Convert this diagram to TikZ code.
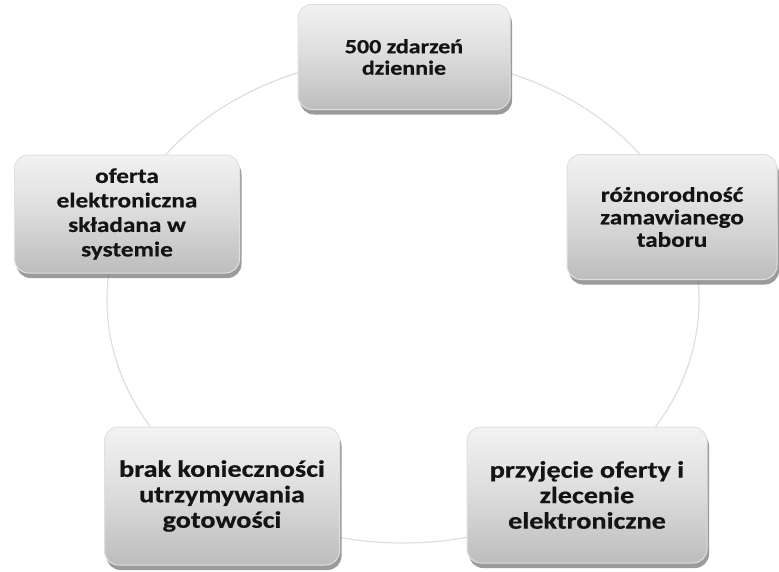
\documentclass[tikz,border=0pt]{standalone}
\usepackage{fontspec}
\newfontfamily\boxfont{Carlito}[FakeStretch=1.2, BoldFeatures={FakeBold=0.6}]
\usetikzlibrary{shadows}

\newcommand\krokfont[2]{\boxfont\bfseries\fontsize{#1}{#2}\selectfont}

\begin{document}
\begin{tikzpicture}[
  x=1pt, y=-1pt,
  krok/.style={rounded corners=14pt, align=center, inner sep=0pt,
               text=black!92,
               top color=black!5, bottom color=black!26, middle color=black!14,
               draw=white!88!black, line width=1pt,
               drop shadow={shadow xshift=2pt, shadow yshift=-5pt,
                            fill=black!65, opacity=0.6}},
  ring/.style={draw=black!13, line width=1.2pt}
]
\useasboundingbox (0,0) rectangle (779,571);

\draw[ring] (403,300) ellipse [x radius=296, y radius=243];

\node[krok, minimum width=212pt, minimum height=105pt, font=\krokfont{20}{21.5}]
  (zdarzenia) at (404,57) {500 zdarze\'n\\dziennie};
\node[krok, minimum width=210pt, minimum height=125pt, font=\krokfont{21}{22.5}]
  (tabor) at (672,217) {r\'o\.znorodno\'s\'c\\zamawianego\\taboru};
\node[krok, minimum width=240pt, minimum height=136pt, font=\krokfont{23.5}{25.5}]
  (zlecenie) at (587,495) {przyj\k{e}cie oferty i\\zlecenie\\elektroniczne};
\node[krok, minimum width=235pt, minimum height=138pt, font=\krokfont{23.5}{25.5}]
  (gotowosc) at (222,496) {brak konieczno\'sci\\utrzymywania\\gotowo\'sci};
\node[krok, minimum width=225pt, minimum height=118pt, font=\krokfont{21}{24.5}]
  (oferta) at (127,214) {oferta\\elektroniczna\\sk\l{}adana w\\systemie};
\end{tikzpicture}
\end{document}
